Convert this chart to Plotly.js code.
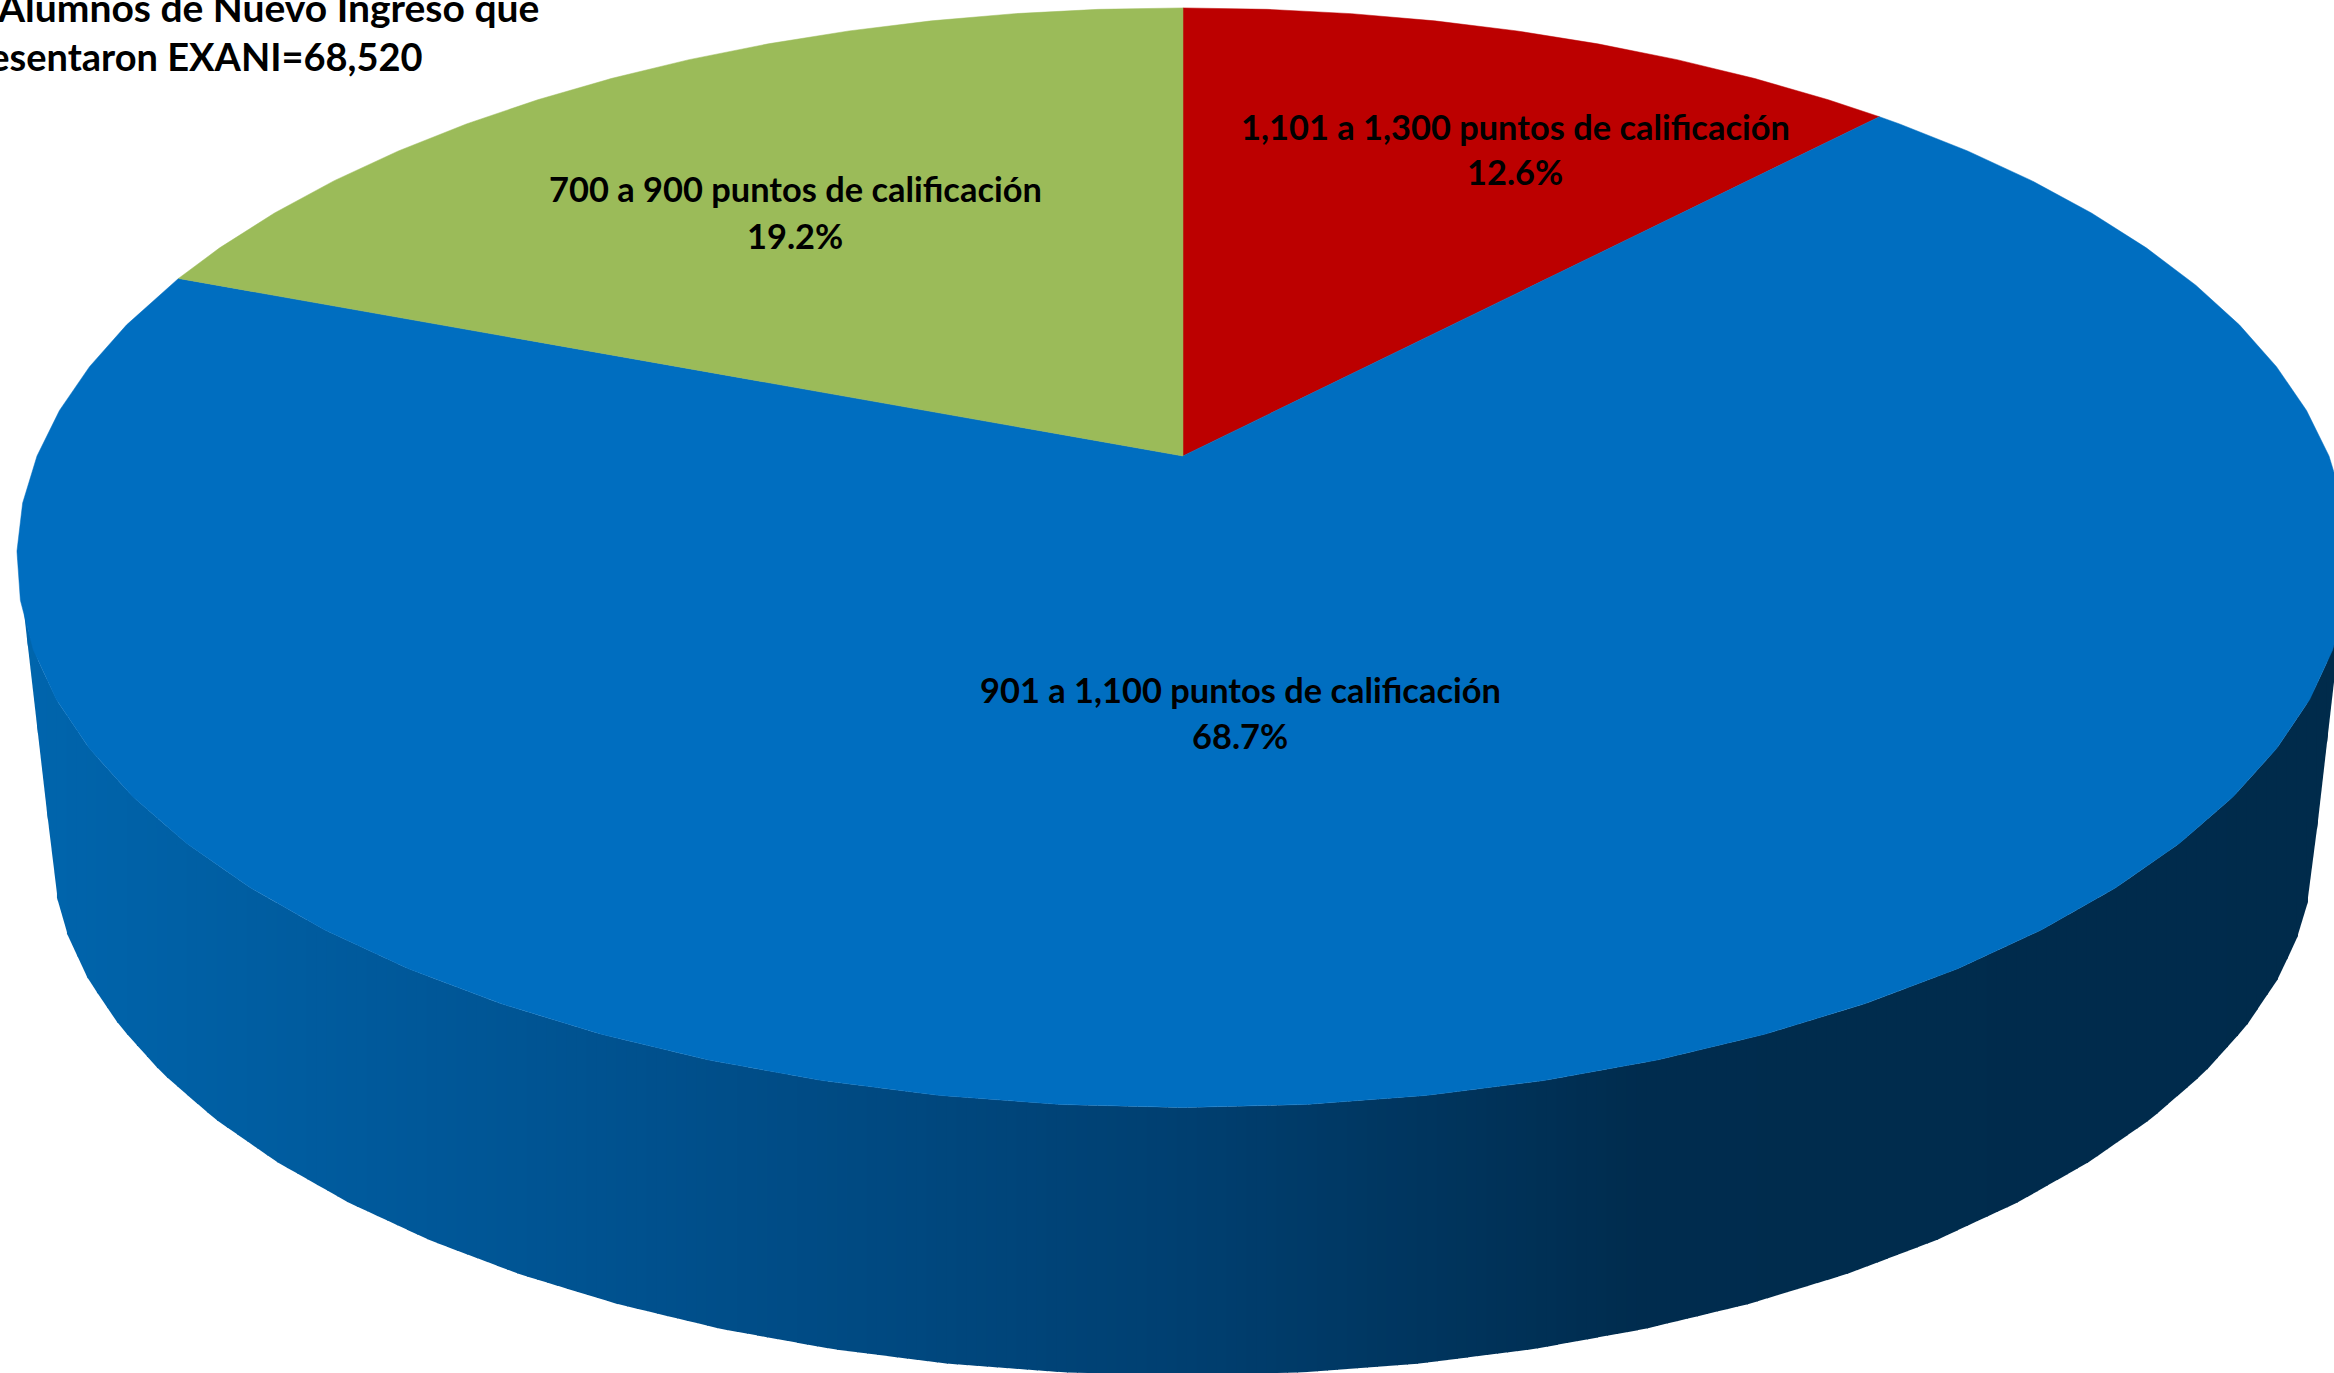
<!DOCTYPE html>
<html>
<head>
<meta charset="utf-8">
<script src="https://cdn.plot.ly/plotly-3.0.1.min.js"></script>
<style>html,body{margin:0;padding:0;background:#fff;overflow:hidden}</style>
</head>
<body>
<div id="chart" style="width:2334px;height:1373px"></div>
<script>
// Data
const categories = ["1,101 a 1,300 puntos de calificación", "901 a 1,100 puntos de calificación", "700 a 900 puntos de calificación"];
const sliceShares = [12.1, 68.7, 19.2];
const percentLabels = ["12.6%", "68.7%", "19.2%"];
const titleLines = ["Alumnos de Nuevo Ingreso que", "presentaron EXANI=68,520"];

// Styles
const sliceColors = ["#BC0000", "#006EC0", "#9BBB59"];
const wallStops = [[17, [0,101,173]], [600, [0,82,144]], [1190, [0,63,112]], [1640, [0,44,78]], [2340, [0,43,75]]];
const labelAnchors = [[1515, 126.5, 171.5], [1240, 689.5, 735.5], [795, 188.5, 235.5]];
const fontFamily = "Lato, 'Open Sans', sans-serif";
const textSize = 34.4, titleSize = 39, titleSize2 = 38;

// Projection of the flat pie disc into the picture (perspective view)
const cx = 1183, cy = 456, R = 1146, H = 531, k = 0.185;
const bottomScale = 0.972, bottomDrop = 286, facetDeg = 5, stripWidth = 10;

function project(deg, scale, drop) {
  const a = deg * Math.PI / 180, u = Math.sin(a), v = Math.cos(a), d = 1 + k * v;
  return [cx + scale * R * u / d, cy + drop - scale * H * v / d];
}
function wallColor(x) {
  for (let i = 1; i < wallStops.length; i++) {
    if (x <= wallStops[i][0]) {
      const [x0, c0] = wallStops[i - 1], [x1, c1] = wallStops[i];
      const t = Math.max(0, (x - x0) / (x1 - x0));
      return "rgb(" + c0.map((c, j) => Math.round(c + (c1[j] - c) * t)).join(",") + ")";
    }
  }
  return "rgb(0,43,75)";
}
function chainY(chain, x) {
  for (let i = 1; i < chain.length; i++) {
    if (x <= chain[i][0]) {
      const [a, b] = [chain[i - 1], chain[i]];
      return a[1] + (b[1] - a[1]) * (x - a[0]) / (b[0] - a[0]);
    }
  }
  return chain[chain.length - 1][1];
}

const traces = [];
// outer wall: vertical strips shaded from left to right, between the front rim and the lower rim
const rimChain = [], lowChain = [];
for (let deg = 260; deg >= 100; deg -= facetDeg) {
  rimChain.push(project(deg, 1, 0));
  lowChain.push(project(deg, bottomScale, bottomDrop));
}
lowChain.unshift(rimChain[0]);
lowChain.push(rimChain[rimChain.length - 1]);
const xStart = rimChain[0][0], xEnd = rimChain[rimChain.length - 1][0];
for (let x = xStart; x < Math.min(xEnd, 2334); x += stripWidth) {
  const x1 = Math.min(x + stripWidth + 1, xEnd);
  const col = wallColor(x + stripWidth / 2);
  traces.push({type: "scatter", mode: "lines",
    x: [x, x1, x1, x, x],
    y: [chainY(rimChain, x), chainY(rimChain, x1), chainY(lowChain, x1), chainY(lowChain, x), chainY(rimChain, x)],
    fill: "toself", fillcolor: col, line: {width: 0}, hoverinfo: "skip", showlegend: false});
}
// top face slices
const total = sliceShares.reduce((a, b) => a + b, 0);
let start = 0;
sliceShares.forEach((share, i) => {
  const end = start + share / total * 360;
  const pts = [[cx, cy], project(start, 1, 0)];
  for (let d = Math.ceil(start / facetDeg + 1e-6) * facetDeg; d < end; d += facetDeg) pts.push(project(d, 1, 0));
  pts.push(project(end, 1, 0));
  pts.push([cx, cy]);
  traces.push({type: "scatter", mode: "lines", x: pts.map(q => q[0]), y: pts.map(q => q[1]), fill: "toself", fillcolor: sliceColors[i], line: {color: sliceColors[i], width: 0.5}, name: categories[i], hoverinfo: "skip", showlegend: false});
  start = end;
});

const note = (x, y, text, xanchor, size) => ({x, y, text, xref: "x", yref: "y", xanchor, yanchor: "middle", showarrow: false, font: {family: fontFamily, size, color: "#000", weight: 700}});
const annotations = [];
categories.forEach((c, i) => {
  const [ax, y1, y2] = labelAnchors[i];
  annotations.push(note(ax, y1, "<b>" + c + "</b>", "center", textSize));
  annotations.push(note(ax, y2, "<b>" + percentLabels[i] + "</b>", "center", textSize));
});
annotations.push(note(541, 7, "<b>" + titleLines[0] + "</b>", "right", titleSize));
annotations.push(note(425, 56, "<b>" + titleLines[1] + "</b>", "right", titleSize2));

Plotly.newPlot("chart", traces, {
  width: 2334, height: 1373,
  margin: {l: 0, r: 0, t: 0, b: 0},
  paper_bgcolor: "#fff", plot_bgcolor: "#fff",
  showlegend: false,
  xaxis: {range: [0, 2334], visible: false, fixedrange: true},
  yaxis: {range: [1373, 0], visible: false, fixedrange: true},
  annotations
}, {staticPlot: true, displayModeBar: false});
</script>
</body>
</html>
